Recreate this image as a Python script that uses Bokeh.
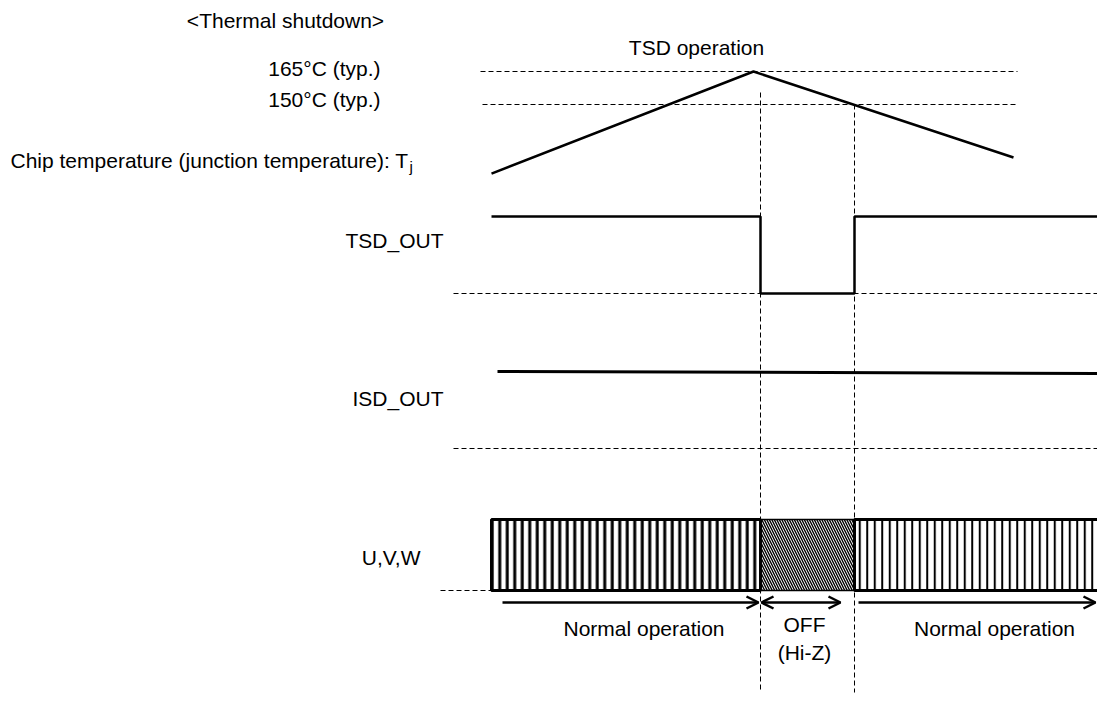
import numpy as np
from bokeh.plotting import figure
from bokeh.models import Range1d, Arrow, OpenHead
from bokeh.core.properties import value
from bokeh.embed import file_html
from bokeh.resources import INLINE

# ---------------- data (time in arbitrary units) ----------------
tj_time = [0.0, 26.2, 52.2]
tj_temp = [118.6, 165.0, 125.9]          # junction temperature, °C

thresholds = [165, 150]                   # °C
threshold_labels = ["165°C (typ.)", "150°C (typ.)"]
threshold_from = [-1.1, -0.9]
threshold_to = [52.6, 52.6]

tsd_time = [0.0, 26.9, 26.9, 36.3, 36.3, 61.0]
tsd_level = [1, 1, 0, 0, 1, 1]

isd_time = [0.6, 61.0]
isd_level = [1.0, 0.975]

uvw_start = [0.0, 26.9, 36.3]
uvw_end = [26.9, 36.3, 61.5]
uvw_phase = ["Normal operation", "OFF", "Normal operation"]

event_times = [26.9, 36.3]                # TSD trip, TSD release

signal_names = ["TSD_OUT", "ISD_OUT", "U,V,W"]

# ---------------- layout ----------------
W, H = 1097, 715
PX_PER_T = 10.0
T0_PX = 491.0

def row_range(y_hi_px, y_lo_px, v_hi=1.0, v_lo=0.0):
    """Range whose v_hi maps to y_hi_px and v_lo to y_lo_px (page px from top)."""
    k = (y_lo_px - y_hi_px) / (v_hi - v_lo)      # px per unit
    end = v_hi + y_hi_px / k
    return Range1d(end - H / k, end)

FONT = value("Liberation Sans")
FS = "21px"
BLACK = "#000000"

p = figure(width=W, height=H, title=None,
           x_range=Range1d(-T0_PX / PX_PER_T, (W - T0_PX) / PX_PER_T),
           y_range=Range1d(H, 0),
           output_backend="svg", toolbar_location=None,
           x_axis_location=None, y_axis_location=None, min_border=0)
p.grid.visible = False
p.outline_line_color = None
p.background_fill_color = "white"
p.border_fill_color = "white"

p.extra_y_ranges = {
    "temp": row_range(71, 104, 165, 150),
    "tsd": row_range(216, 293),
    "isd": row_range(371, 448),
    "uvw": row_range(519, 590),
}

DASH = "5 3"

# temperature thresholds
p.segment(x0=threshold_from, y0=thresholds, x1=threshold_to, y1=thresholds,
          y_range_name="temp", line_color=BLACK, line_width=1, line_dash=DASH)
# junction temperature
p.line(tj_time, tj_temp, y_range_name="temp", line_color=BLACK, line_width=2.5)

# event vertical dashed lines
p.segment(x0=event_times, y0=[92, 104], x1=event_times, y1=[692, 692],
          line_color=BLACK, line_width=1, line_dash=DASH)

# TSD_OUT
p.segment(x0=[-3.8], y0=[0], x1=[61.0], y1=[0], y_range_name="tsd",
          line_color=BLACK, line_width=1, line_dash=DASH)
p.line(tsd_time, tsd_level, y_range_name="tsd", line_color=BLACK, line_width=2.5)

# ISD_OUT
p.segment(x0=[-3.8], y0=[0], x1=[61.0], y1=[0], y_range_name="isd",
          line_color=BLACK, line_width=1, line_dash=DASH)
p.line(isd_time, isd_level, y_range_name="isd", line_color=BLACK, line_width=3)

# U,V,W
p.segment(x0=[-5.1], y0=[0], x1=[0], y1=[0], y_range_name="uvw",
          line_color=BLACK, line_width=1, line_dash=DASH)
p.quad(left=[uvw_start[1]], right=[uvw_end[1]], bottom=[0], top=[1],
       y_range_name="uvw", fill_color="white", line_color=BLACK, line_width=1.5,
       hatch_pattern="\\", hatch_scale=5, hatch_weight=1.4, hatch_color=BLACK)
p.quad(left=[uvw_start[0]], right=[uvw_end[0]], bottom=[0], top=[1],
       y_range_name="uvw", fill_color="white", line_color=BLACK, line_width=3,
       hatch_pattern="|", hatch_scale=7.5, hatch_weight=3, hatch_color=BLACK)
p.quad(left=[uvw_start[2]], right=[uvw_end[2]], bottom=[0], top=[1],
       y_range_name="uvw", fill_color="white", line_color=BLACK, line_width=3,
       hatch_pattern="|", hatch_scale=7.5, hatch_weight=2, hatch_color=BLACK)

# phase arrows
AY = 602
head = lambda: OpenHead(size=12, line_width=2.5, line_color=BLACK)
p.add_layout(Arrow(end=head(), start=None,
                   x_start=uvw_start[0] + 1.1, y_start=AY, x_end=uvw_end[0] - 0.2, y_end=AY,
                   line_width=2.5, line_color=BLACK))
p.add_layout(Arrow(end=head(), start=head(),
                   x_start=uvw_start[1] + 0.1, y_start=AY, x_end=uvw_start[1] + 8.0, y_end=AY,
                   line_width=2.5, line_color=BLACK))
p.add_layout(Arrow(end=head(), start=None,
                   x_start=uvw_start[2] + 0.4, y_start=AY, x_end=60.4, y_end=AY,
                   line_width=2.5, line_color=BLACK))

# ---------------- texts ----------------
def txt(x, y, s, align="center", size=FS):
    p.text(x=[x], y=[y], text=[s], text_font=FONT, text_font_size=size,
           text_color=BLACK, text_align=align, text_baseline="middle")

txt(-20.6, 20, "<Thermal shutdown>")
txt(-11.1, 68, threshold_labels[0], align="right")
txt(-11.1, 99, threshold_labels[1], align="right")
txt(-48.1, 160, "Chip temperature (junction temperature): T", align="left")
txt(-8.2, 166, "j", align="left", size="15px")
txt(tj_time[1] - 5.7, 47, "TSD operation")
txt(-4.8, 240, signal_names[0], align="right")
txt(-4.8, 398, signal_names[1], align="right")
txt(-7.1, 557, signal_names[2], align="right")
txt((uvw_start[0] + uvw_end[0]) / 2 + 1.8, 628, uvw_phase[0])
txt((uvw_start[1] + uvw_end[1]) / 2 - 0.3, 624, uvw_phase[1])
txt((uvw_start[1] + uvw_end[1]) / 2 - 0.3, 652, "(Hi-Z)")
txt(50.3, 628, uvw_phase[2])

open("out.html", "w").write(file_html(p, INLINE))
